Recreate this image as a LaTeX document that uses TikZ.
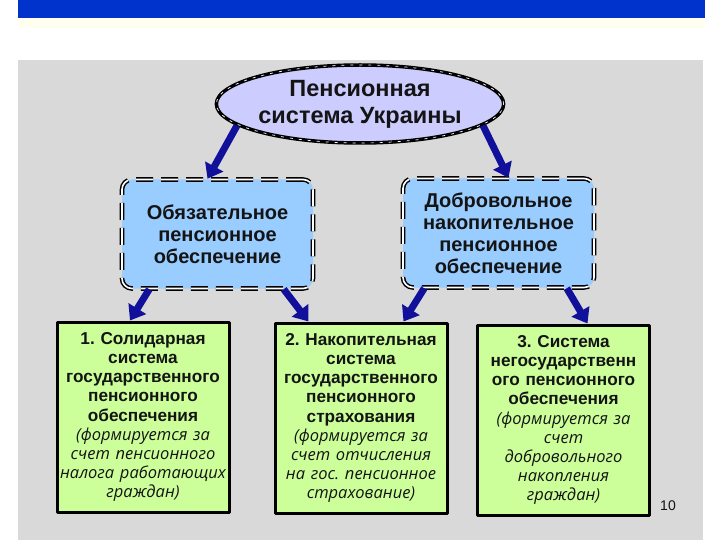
\documentclass[tikz,border=0pt]{standalone}
\usepackage{fontspec}
\setmainfont{Liberation Sans}
\newfontfamily\notefont{Open Sans}
\newcommand{\noteit}{\notefont\itshape\fontsize{16.5}{19.2}\selectfont}
\usetikzlibrary{shapes.geometric,arrows.meta}
\definecolor{barblue}{HTML}{0033CC}
\definecolor{panelgray}{HTML}{D9D9D9}
\definecolor{lavender}{HTML}{CCCCFF}
\definecolor{skyfill}{HTML}{99CCFF}
\definecolor{leafgreen}{HTML}{CCFF99}
\definecolor{arrowblue}{HTML}{10109A}
\definecolor{inkgray}{HTML}{141414}
\frenchspacing
\begin{document}
\begin{tikzpicture}[x=1pt,y=-1pt,line join=round,
  title/.style={ellipse,draw=black,line width=3.5pt,fill=lavender,text=inkgray,
    minimum width=264pt,minimum height=78pt,inner sep=0pt,align=center,
    font=\bfseries\fontsize{23.5}{27}\selectfont,
    postaction={draw=white,line width=0.7pt,dash pattern=on 3pt off 6pt}},
  kind/.style={rectangle,rounded corners=10pt,draw=black,double=white,
    double distance=1.6pt,line width=1.5pt,dash pattern=on 17pt off 8pt,
    fill=skyfill,text=inkgray,minimum width=191pt,minimum height=109pt,align=center,
    font=\bfseries\fontsize{20}{22}\selectfont},
  pillar/.style={rectangle,draw=black,line width=3pt,fill=leafgreen,text=inkgray,
    minimum width=172pt,minimum height=190pt,inner sep=1pt,text width=170pt,
    align=center,font=\fontsize{17.2}{19.2}\selectfont},
  link/.style={draw=arrowblue,line width=7pt,-{Triangle[length=14pt,width=20pt]}}]
\useasboundingbox (0,0) rectangle (720,540);
% backdrop
\fill[white] (0,0) rectangle (720,540);
\fill[barblue] (18,0) rectangle (705,18);
\fill[yellow!6] (18,18) rectangle (705,28);
\fill[panelgray] (18,60) rectangle (703,540);
% top level
\node[title] (ukr) at (360,104) {Пенсионная\\система Украины};
\node[kind] (mand) at (217.5,234) {Обязательное\\пенсионное\\обеспечение};
\node[kind] (vol) at (498.5,233) {Добровольное\\накопительное\\пенсионное\\обеспечение};
% three pillars
\node[pillar] (solid) at (143,417) {{\bfseries 1. Солидарная\\система\\государственного\\пенсионного\\обеспечения}\\
  {\noteit (формируется за\\счет пенсионного\\налога работающих\\граждан)}};
\node[pillar] (accum) at (361,418) {{\bfseries 2. Накопительная\\система\\государственного\\пенсионного\\страхования}\\
  {\noteit (формируется за\\счет отчисления\\на гос. пенсионное\\страхование)}};
\node[pillar] (priv) at (563.5,420) {{\bfseries 3. Система\\негосударственн\\ого пенсионного\\обеспечения}\\
  {\noteit (формируется за\\счет\\добровольного\\накопления\\граждан)}};
\node[font=\fontsize{14}{16}\selectfont,text=inkgray] (page) at (668,506) {10};
% arrows
\draw[link] (ukr.190) -- ([xshift=-10pt]mand.north);
\draw[link] (ukr.-10) -- ([xshift=10pt]vol.north);
\draw[link] ([xshift=28pt]mand.south west) -- ([xshift=-13pt]solid.north);
\draw[link] ([xshift=-30pt]mand.south east) -- ([xshift=35pt]accum.north west);
\draw[link] ([xshift=22pt]vol.south west) -- ([xshift=-45pt]accum.north east);
\draw[link] ([xshift=-28pt]vol.south east) -- ([xshift=24pt]priv.north);
\end{tikzpicture}
\end{document}
